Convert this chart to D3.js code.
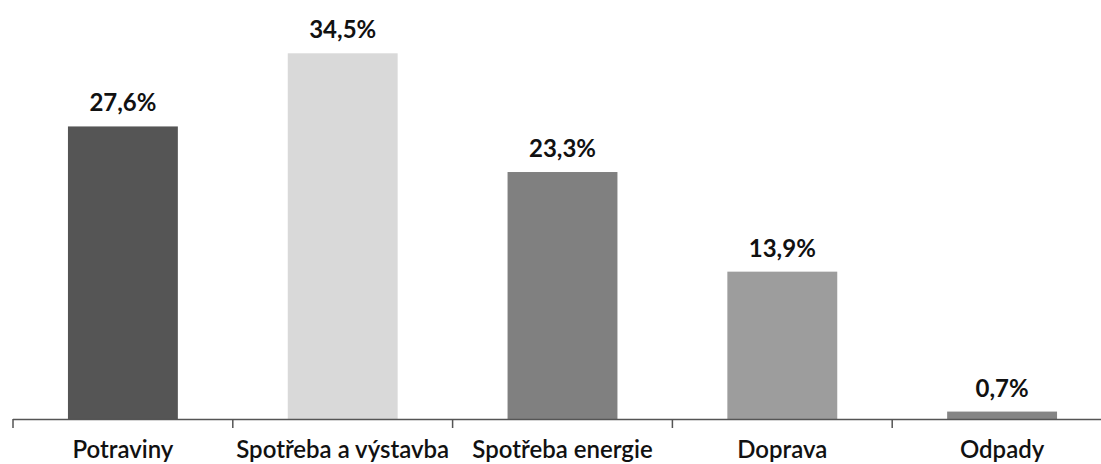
<!DOCTYPE html>
<html><head><meta charset="utf-8">
<script src="https://cdn.jsdelivr.net/npm/d3@7"></script>
<style>body{margin:0;background:#fff}svg{display:block}</style>
</head><body>
<script>
const categories = ["Potraviny", "Spotřeba a výstavba", "Spotřeba energie", "Doprava", "Odpady"];
const values = [27.6, 34.5, 23.3, 13.9, 0.7];
const valueLabels = ["27,6%", "34,5%", "23,3%", "13,9%", "0,7%"];
const colors = ["#555555", "#d9d9d9", "#808080", "#9d9d9d", "#858585"];

const W = 1101, H = 464;
const svg = d3.select("body").append("svg").attr("width", W).attr("height", H);
const font = "Lato, 'Open Sans', sans-serif";

const x = d3.scaleBand().domain(categories).range([13, 1112]).paddingInner(0.5).paddingOuter(0.25);
const y = d3.scaleLinear().domain([0, 35]).range([419, 48]);

svg.selectAll("rect.bar").data(categories).join("rect")
  .attr("class", "bar")
  .attr("x", d => x(d))
  .attr("width", x.bandwidth())
  .attr("y", (d, i) => y(values[i]))
  .attr("height", (d, i) => y(0) - y(values[i]))
  .attr("fill", (d, i) => colors[i]);

// axis line
svg.append("line").attr("x1", 13).attr("x2", W).attr("y1", y(0) + 0.5).attr("y2", y(0) + 0.5)
  .attr("stroke", "#555").attr("stroke-width", 1.5);
// ticks at band boundaries
const tickPos = d3.range(categories.length).map(i => x.range()[0] + i * x.step());
svg.selectAll("line.tick").data(tickPos).join("line")
  .attr("class", "tick")
  .attr("x1", d => d).attr("x2", d => d)
  .attr("y1", y(0)).attr("y2", y(0) + 9)
  .attr("stroke", "#555").attr("stroke-width", 1.5);

// value labels
svg.selectAll("text.val").data(categories).join("text")
  .attr("class", "val")
  .attr("x", d => x(d) + x.bandwidth() / 2)
  .attr("y", (d, i) => y(values[i]) - 15)
  .attr("text-anchor", "middle")
  .attr("font-family", font).attr("font-weight", "bold").attr("font-size", 24)
  .attr("fill", "#111")
  .text((d, i) => valueLabels[i]);

// category labels
svg.selectAll("text.cat").data(categories).join("text")
  .attr("class", "cat")
  .attr("x", d => x(d) + x.bandwidth() / 2)
  .attr("y", 458)
  .attr("text-anchor", "middle")
  .attr("font-family", font).attr("font-weight", "600").attr("font-size", 24)
  .attr("fill", "#111")
  .text(d => d);
</script>
</body></html>
